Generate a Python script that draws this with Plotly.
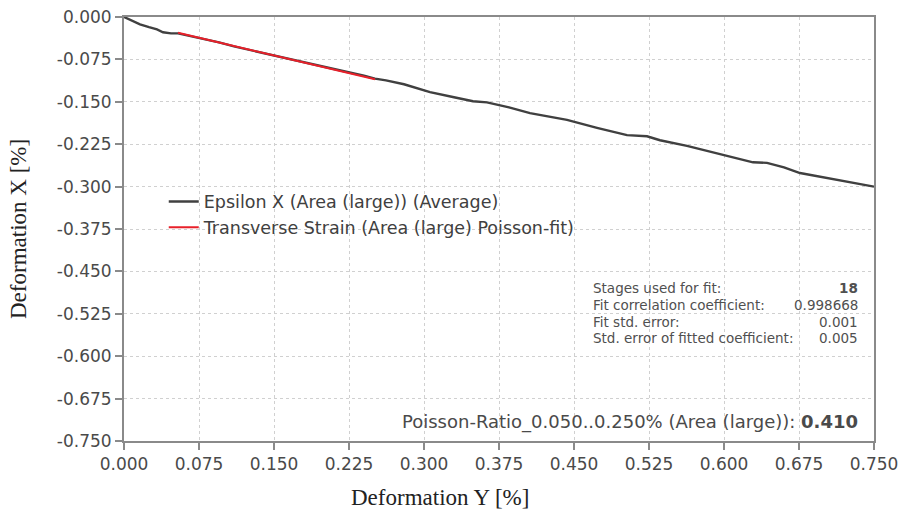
import plotly.graph_objects as go

# Measured curve: Epsilon X (Area (large)) (Average)
eps_y = [0, 0.008, 0.016, 0.025, 0.033, 0.039, 0.047, 0.054, 0.065, 0.080, 0.095, 0.110,
         0.125, 0.140, 0.155, 0.170, 0.185, 0.200, 0.215, 0.230, 0.240, 0.251, 0.262, 0.280,
         0.306, 0.330, 0.349, 0.363, 0.385, 0.406, 0.425, 0.443, 0.473, 0.503, 0.523, 0.536,
         0.563, 0.596, 0.629, 0.643, 0.660, 0.676, 0.695, 0.713, 0.730, 0.750]
eps_x = [0, -0.006, -0.013, -0.018, -0.022, -0.027, -0.029, -0.029, -0.033, -0.039, -0.045, -0.052,
         -0.058, -0.064, -0.069, -0.076, -0.082, -0.088, -0.094, -0.099, -0.104, -0.109, -0.112, -0.119,
         -0.133, -0.142, -0.149, -0.151, -0.160, -0.170, -0.176, -0.182, -0.196, -0.209, -0.211, -0.218,
         -0.228, -0.242, -0.257, -0.258, -0.266, -0.276, -0.282, -0.288, -0.294, -0.300]

# Poisson fit line
fit_y = [0.054, 0.251]
fit_x = [-0.028, -0.110]

tick_vals_x = [0.000, 0.075, 0.150, 0.225, 0.300, 0.375, 0.450, 0.525, 0.600, 0.675, 0.750]
tick_text_x = ["0.000", "0.075", "0.150", "0.225", "0.300", "0.375", "0.450", "0.525", "0.600", "0.675", "0.750"]
tick_vals_y = [0.000, -0.075, -0.150, -0.225, -0.300, -0.375, -0.450, -0.525, -0.600, -0.675, -0.750]
tick_text_y = ["0.000", "-0.075", "-0.150", "-0.225", "-0.300", "-0.375", "-0.450", "-0.525", "-0.600",
               "-0.675", "-0.750"]

stats_labels = ["Stages used for fit:", "Fit correlation coefficient:", "Fit std. error:",
                "Std. error of fitted coefficient:"]
stats_values = ["<b>18</b>", "0.998668", "0.001", "0.005"]
poisson_text = "Poisson-Ratio_0.050..0.250% (Area (large)): <b>0.410</b>"

FONT = "DejaVu Sans"

fig = go.Figure()
fig.add_trace(go.Scatter(x=eps_y, y=eps_x, mode="lines", name="Epsilon X (Area (large)) (Average)",
                         line=dict(color="#404040", width=2.4)))
fig.add_trace(go.Scatter(x=fit_y, y=fit_x, mode="lines", name="Transverse Strain (Area (large) Poisson-fit)",
                         line=dict(color="#e8202a", width=2)))

axis_common = dict(showline=True, mirror=True, linecolor="#8a8a8a", linewidth=2,
                   ticks="outside", ticklen=7, tickcolor="#8a8a8a", tickwidth=1.5,
                   showgrid=True, gridcolor="#d0d0d0", griddash="dot", gridwidth=1,
                   zeroline=False, automargin=False,
                   tickfont=dict(family=FONT, size=17, color="#4a4a4a"))

fig.update_xaxes(range=[0, 0.75], tickvals=tick_vals_x, ticktext=tick_text_x, **axis_common)
fig.update_yaxes(range=[-0.75, 0], tickvals=tick_vals_y, ticktext=tick_text_y, **axis_common)

ann = []
row_y = [0.361, 0.321, 0.281, 0.243]
for lab, val, yy in zip(stats_labels, stats_values, row_y):
    ann.append(dict(x=0.6227, y=yy, xref="paper", yref="paper", text=lab, showarrow=False,
                    xanchor="left", yanchor="middle", font=dict(family=FONT, size=13.5, color="#505050")))
    ann.append(dict(x=0.981, y=yy, xref="paper", yref="paper", text=val, showarrow=False,
                    xanchor="right", yanchor="middle", font=dict(family=FONT, size=13.5, color="#505050")))
ann.append(dict(x=0.981, y=0.045, xref="paper", yref="paper", text=poisson_text, showarrow=False,
                xanchor="right", yanchor="middle", font=dict(family=FONT, size=18, color="#4a4a4a")))
# axis titles
ann.append(dict(x=0.4213, y=-0.0, xref="paper", yref="paper", yshift=-56, text="Deformation Y [%]",
                showarrow=False, xanchor="center", yanchor="middle",
                font=dict(family="Liberation Serif", size=23, color="#222")))
ann.append(dict(x=0, y=0.5, xref="paper", yref="paper", xshift=-106, text="Deformation X [%]",
                showarrow=False, xanchor="center", yanchor="middle", textangle=-90,
                font=dict(family="Liberation Serif", size=23, color="#222")))

fig.update_layout(
    width=903, height=514,
    margin=dict(l=124, r=29, t=17, b=73),
    paper_bgcolor="white", plot_bgcolor="white",
    showlegend=True,
    legend=dict(x=0.053, y=0.607, xanchor="left", yanchor="top", bgcolor="rgba(255,255,255,0)",
                font=dict(family=FONT, size=17.5, color="#404040"), tracegroupgap=0),
    annotations=ann,
)

fig.write_html("out.html")
